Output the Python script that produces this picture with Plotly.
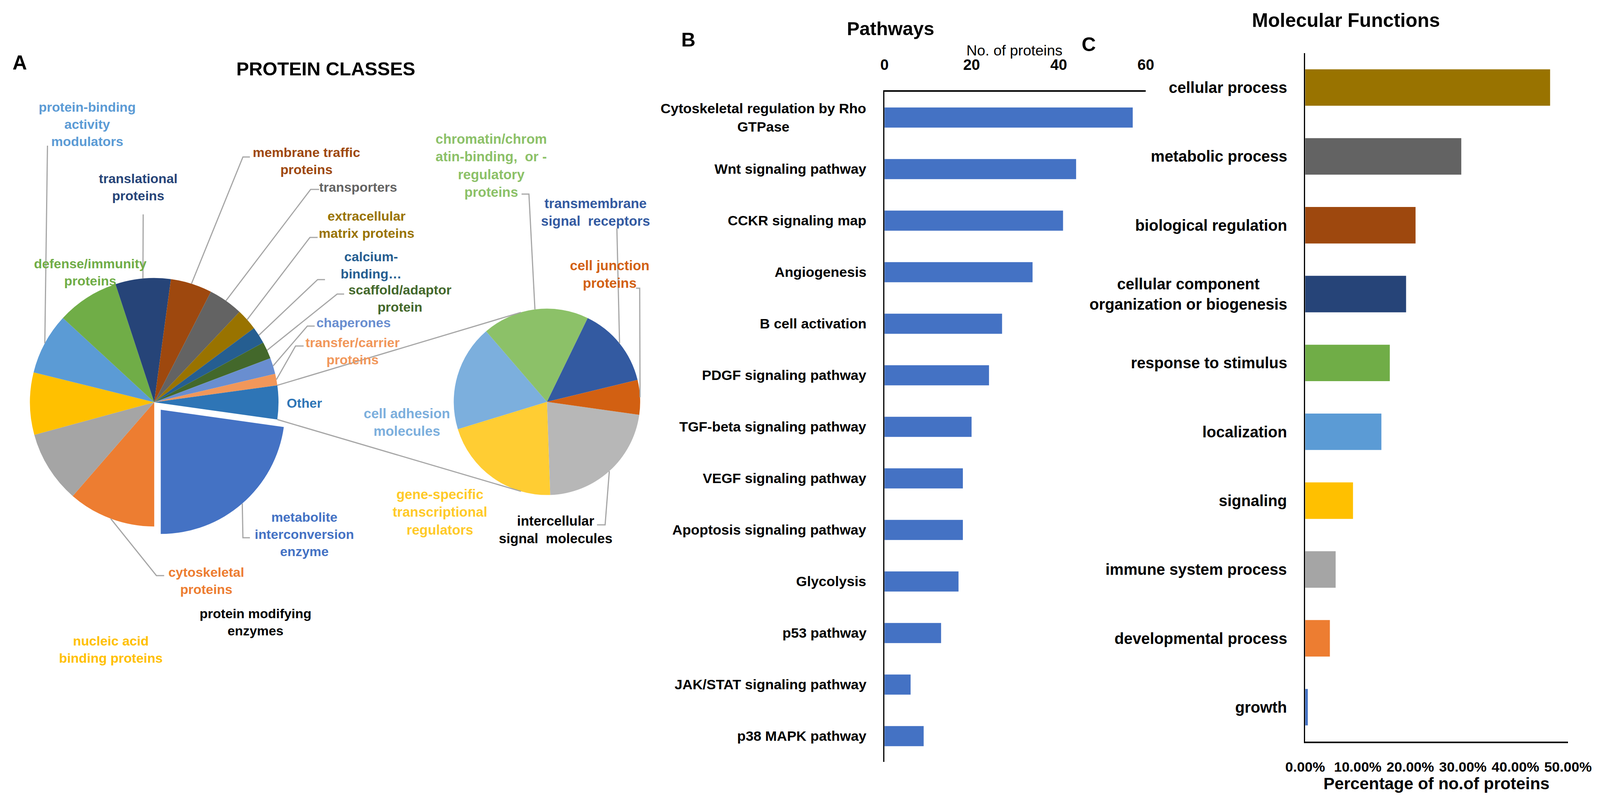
import math
import plotly.graph_objects as go

W, H = 4347, 2046
FONT = "Liberation Sans, Arial, sans-serif"

# ---------------- DATA ----------------
# A: protein classes (primary pie), clockwise from the exploded slice
main_classes = [
    "metabolite interconversion enzyme", "cytoskeletal proteins", "protein modifying enzymes",
    "nucleic acid binding proteins", "protein-binding activity modulators", "defense/immunity proteins",
    "translational proteins", "membrane traffic proteins", "transporters", "extracellular matrix proteins",
    "calcium-binding", "scaffold/adaptor protein", "chaperones", "transfer/carrier proteins", "Other",
]
main_values = [22.8, 11.4, 9.4, 8.1, 8.0, 8.1, 7.2, 5.4, 4.5, 2.8, 2.2, 2.2, 2.1, 1.5, 4.4]
main_colors = ["#4472C4", "#ED7D31", "#A5A5A5", "#FFC000", "#5B9BD5", "#70AD47", "#264478",
               "#9E480E", "#636363", "#997300", "#255E91", "#43682B", "#698ED0", "#F1975A", "#2E75B6"]

# A: breakdown of "Other" (secondary pie)
other_classes = ["intercellular signal molecules", "gene-specific transcriptional regulators",
                 "cell adhesion molecules", "chromatin/chromatin-binding, or -regulatory proteins",
                 "transmembrane signal receptors", "cell junction proteins"]
other_values = [22.2, 20.8, 18.4, 18.5, 14.0, 6.0]
other_colors = ["#B7B7B7", "#FFCD33", "#7CAFDD", "#8CC168", "#335AA1", "#D26012"]

# B: pathways
pathways = ["Cytoskeletal regulation by Rho<br>GTPase", "Wnt signaling pathway", "CCKR signaling map",
            "Angiogenesis", "B cell activation", "PDGF signaling pathway", "TGF-beta signaling pathway",
            "VEGF signaling pathway", "Apoptosis signaling pathway", "Glycolysis", "p53 pathway",
            "JAK/STAT signaling pathway", "p38 MAPK pathway"]
pathway_counts = [57, 44, 41, 34, 27, 24, 20, 18, 18, 17, 13, 6, 9]
pathway_ticks = [0, 20, 40, 60]

# C: molecular functions
functions = ["cellular process", "metabolic process", "biological regulation",
             "cellular component<br>organization or biogenesis", "response to stimulus", "localization",
             "signaling", "immune system process", "developmental process", "growth"]
function_pct = [0.466, 0.297, 0.210, 0.192, 0.161, 0.145, 0.091, 0.058, 0.047, 0.005]
function_colors = ["#997300", "#636363", "#9E480E", "#264478", "#70AD47", "#5B9BD5",
                   "#FFC000", "#A5A5A5", "#ED7D31", "#4472C4"]
pct_ticks = [0, 0.1, 0.2, 0.3, 0.4, 0.5]

# ---------------- LAYOUT ----------------
# the visible frame is 4096 px wide; reference layout (4347 px) is mapped into it horizontally
SX = 4096 / 4347
FS = 0.97  # size factor for fonts and pie radii


def cx(x):          # reference x -> css x
    return x * SX


def fx(x):          # reference x -> paper x
    return x * SX / W


def fy(y):          # reference y -> paper y
    return 1 - y / H


def fs(s):
    return round(s * FS, 1)


def slice_point(values, idx, rotation, ccx, ccy, r, pull=0.0, frac=0.5):
    total = float(sum(values))
    a = math.radians(rotation + (sum(values[:idx]) + values[idx] * frac) / total * 360.0)
    mid = math.radians(rotation + (sum(values[:idx]) + values[idx] / 2) / total * 360.0)
    ox, oy = pull * r * math.sin(mid), -pull * r * math.cos(mid)
    return ccx + ox + r * math.sin(a), ccy + oy - r * math.cos(a)


def path(points_css):
    return "M " + " L ".join(f"{x / W:.5f},{1 - y / H:.5f}" for x, y in points_css)


ROT1, CX1, CY1, R1 = 98, cx(419), 1030, 328 * FS
PULL = 0.08
ROT2, CX2, CY2, R2 = 98, cx(1486), 1029, 246 * FS
half1 = R1 * (1 + PULL)
pulls = [PULL if c == "metabolite interconversion enzyme" else 0 for c in main_classes]

fig = go.Figure()
fig.add_trace(go.Pie(
    labels=main_classes, values=main_values, sort=False, direction="clockwise", rotation=ROT1,
    marker=dict(colors=main_colors, line=dict(width=0)), pull=pulls, textinfo="none",
    showlegend=False,
    domain=dict(x=[(CX1 - half1) / W, (CX1 + half1) / W], y=[1 - (CY1 + half1) / H, 1 - (CY1 - half1) / H]),
))
fig.add_trace(go.Pie(
    labels=other_classes, values=other_values, sort=False, direction="clockwise", rotation=ROT2,
    marker=dict(colors=other_colors, line=dict(width=0)), textinfo="none", showlegend=False,
    domain=dict(x=[(CX2 - R2) / W, (CX2 + R2) / W], y=[1 - (CY2 + R2) / H, 1 - (CY2 - R2) / H]),
))
fig.add_trace(go.Bar(
    y=pathways, x=pathway_counts, orientation="h", marker=dict(color="#4472C4", line=dict(width=0)),
    width=0.39, xaxis="x", yaxis="y", showlegend=False,
))
fig.add_trace(go.Bar(
    y=functions, x=function_pct, orientation="h", marker=dict(color=function_colors, line=dict(width=0)),
    width=0.53, xaxis="x2", yaxis="y2", showlegend=False,
))

annotations = []
shapes = []


def add_text(text, x, y, size, color="black", bold=True):
    annotations.append(dict(
        text=text, x=fx(x), y=fy(y), xref="paper", yref="paper", showarrow=False,
        xanchor="center", yanchor="middle", align="center",
        font=dict(family=FONT, size=fs(size), color=color, weight="bold" if bold else "normal")))


LEADER = dict(color="#A6A6A6", width=3)

# (class, display text, colour, label centre, leader elbow points) in reference px
main_labels = [
    ("protein-binding activity modulators", "protein-binding<br>activity<br>modulators", "#5B9BD5", (237, 318), [(129, 373)]),
    ("translational proteins", "translational<br>proteins", "#264478", (376, 479), [(389, 549)]),
    ("membrane traffic proteins", "membrane traffic<br>proteins", "#9E480E", (833, 412), [(660, 402), (679, 402)]),
    ("transporters", "transporters", "#636363", (973, 479), [(844, 485), (867, 485)]),
    ("extracellular matrix proteins", "extracellular<br>matrix proteins", "#997300", (996, 575), [(842, 608), (863, 608)]),
    ("calcium-binding", "calcium-<br>binding…", "#255E91", (1008, 679), [(863, 716), (883, 716)]),
    ("scaffold/adaptor protein", "scaffold/adaptor<br>protein", "#43682B", (1087, 764), [(916, 753), (935, 753)]),
    ("chaperones", "chaperones", "#698ED0", (960, 826), [(835, 835), (855, 835)]),
    ("transfer/carrier proteins", "transfer/carrier<br>proteins", "#F1975A", (958, 899), [(803, 886), (825, 886)]),
    ("Other", "Other", "#2E75B6", (827, 1032), None),
    ("metabolite interconversion enzyme", "metabolite<br>interconversion<br>enzyme", "#4472C4", (827, 1368), [(660, 1377), (679, 1377)]),
    ("cytoskeletal proteins", "cytoskeletal<br>proteins", "#ED7D31", (560, 1487), [(425, 1474), (446, 1474)]),
    ("protein modifying enzymes", "protein modifying<br>enzymes", "#000000", (694, 1593), None),
    ("nucleic acid binding proteins", "nucleic acid<br>binding proteins", "#FFC000", (301, 1663), None),
    ("defense/immunity proteins", "defense/immunity<br>proteins", "#70AD47", (245, 697), None),
]
for name, txt, col, (lx, ly), elbow in main_labels:
    add_text(txt, lx, ly, 35, col)
    if elbow:
        i = main_classes.index(name)
        start = slice_point(main_values, i, ROT1, CX1, CY1, R1, pulls[i])
        pts = [start] + [(cx(ex), ey) for ex, ey in elbow]
        shapes.append(dict(type="path", path=path(pts), xref="paper", yref="paper", line=LEADER))

other_labels = [
    ("chromatin/chromatin-binding, or -regulatory proteins", "chromatin/chrom<br>atin-binding,  or -<br>regulatory<br>proteins", "#8CC168", (1335, 423), [(1437, 497), (1417, 497)]),
    ("transmembrane signal receptors", "transmembrane<br>signal  receptors", "#335AA1", (1618, 543), [(1676, 585)]),
    ("cell junction proteins", "cell junction<br>proteins", "#D26012", (1657, 702), [(1738, 738), (1728, 738)]),
    ("intercellular signal molecules", "intercellular<br>signal  molecules", "#000000", (1510, 1356), [(1644, 1344), (1622, 1344)]),
    ("gene-specific transcriptional regulators", "gene-specific<br>transcriptional<br>regulators", "#FFCA28", (1195, 1311), None),
    ("cell adhesion molecules", "cell adhesion<br>molecules", "#7CAFDD", (1105, 1081), None),
]
for name, txt, col, (lx, ly), elbow in other_labels:
    add_text(txt, lx, ly, 36, col)
    if elbow:
        i = other_classes.index(name)
        start = slice_point(other_values, i, ROT2, CX2, CY2, R2)
        pts = [start] + [(cx(ex), ey) for ex, ey in elbow]
        shapes.append(dict(type="path", path=path(pts), xref="paper", yref="paper", line=LEADER))

# pie-of-pie connector lines from the "Other" slice edges to the secondary pie
oi = main_classes.index("Other")
p_top = slice_point(main_values, oi, ROT1, CX1, CY1, R1, frac=0.0)
p_bot = slice_point(main_values, oi, ROT1, CX1, CY1, R1, frac=1.0)
for (sx, sy), ang in ((p_top, 343.8), (p_bot, 196.2)):
    a = math.radians(ang)
    ex, ey = CX2 + R2 * math.sin(a), CY2 - R2 * math.cos(a)
    shapes.append(dict(type="path", path=path([(sx, sy), (ex, ey)]), xref="paper", yref="paper", line=LEADER))

# category labels (centred multi-line, right-anchored next to the axis)
for cat in pathways:
    annotations.append(dict(text=cat, x=0, y=cat, xref="x", yref="y", xanchor="right", xshift=-44,
                            showarrow=False, align="center",
                            font=dict(family=FONT, size=fs(37), color="black", weight="bold")))
for cat in functions:
    annotations.append(dict(text=cat, x=0, y=cat, xref="x2", yref="y2", xanchor="right", xshift=-44,
                            showarrow=False, align="center",
                            font=dict(family=FONT, size=fs(41), color="black", weight="bold")))

# titles and panel letters
add_text("A", 54, 160, 53)
add_text("PROTEIN CLASSES", 885, 176, 50)
add_text("B", 1870, 102, 52)
add_text("Pathways", 2420, 73, 50)
add_text("No. of proteins", 2756, 129, 39, bold=False)
add_text("C", 2958, 114, 52)
add_text("Molecular Functions", 3657, 52, 51)
add_text("Percentage of no.of proteins", 3903, 2006, 44)

axis_common = dict(showgrid=False, zeroline=False, showline=True, linecolor="black", ticks="",
                   automargin=False)

fig.update_layout(
    template="none",
    width=W, height=H, margin=dict(l=0, r=0, t=0, b=0, pad=0), autosize=False,
    paper_bgcolor="white", plot_bgcolor="white", showlegend=False,
    xaxis=dict(domain=[fx(2403), fx(3113)], range=[0, 60], side="top", anchor="y", linewidth=4,
               tickvals=pathway_ticks, ticklabelstandoff=36,
               tickfont=dict(family=FONT, size=fs(40), color="black", weight="bold"), **axis_common),
    yaxis=dict(domain=[fy(1951), fy(235)], anchor="x", type="category", categoryorder="array",
               categoryarray=pathways, autorange="reversed", showticklabels=False, linewidth=3,
               **axis_common),
    xaxis2=dict(domain=[fx(3546), fx(4260)], range=[0, 0.5], side="bottom", anchor="y2", linewidth=4,
                tickvals=pct_ticks, tickformat=".2%", ticklabelstandoff=30,
                tickfont=dict(family=FONT, size=fs(37), color="black", weight="bold"), **axis_common),
    yaxis2=dict(domain=[fy(1899), fy(136)], anchor="x2", type="category", categoryorder="array",
                categoryarray=functions, autorange="reversed", showticklabels=False, linewidth=3,
                **axis_common),
    annotations=annotations, shapes=shapes,
)

fig.write_html("out.html", config={"responsive": False, "displayModeBar": False},
               post_script="document.body.style.margin='0px';document.body.style.overflow='hidden';")
